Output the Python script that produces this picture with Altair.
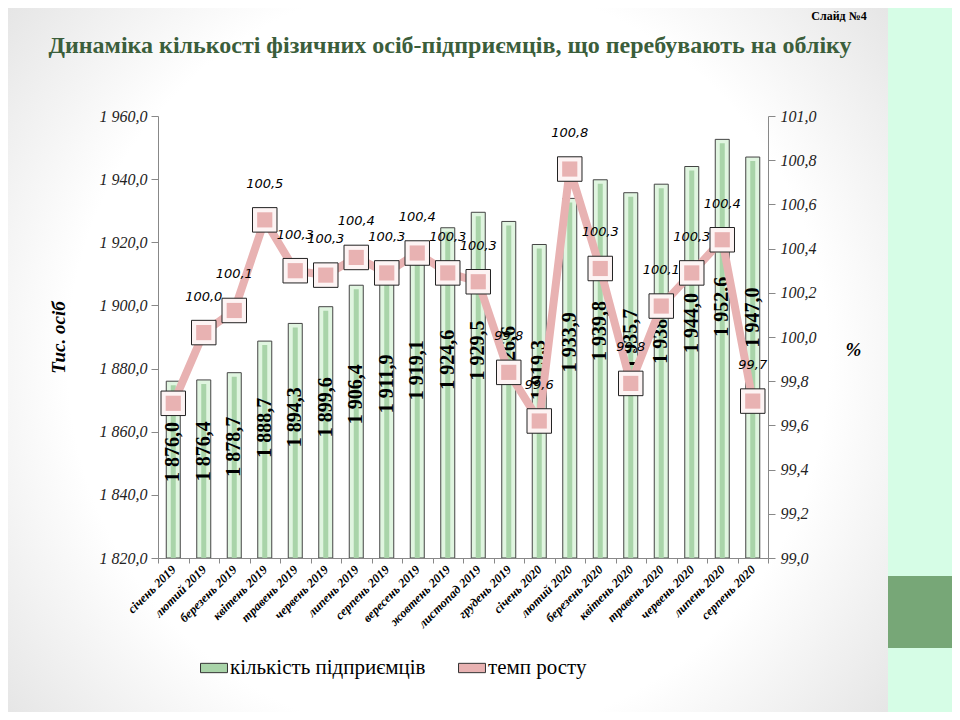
import altair as alt
import pandas as pd

months = ["січень 2019", "лютий 2019", "березень 2019", "квітень 2019", "травень 2019",
          "червень 2019", "липень 2019", "серпень 2019", "вересень 2019", "жовтень 2019",
          "листопад 2019", "грудень 2019", "січень 2020", "лютий 2020", "березень 2020",
          "квітень 2020", "травень 2020", "червень 2020", "липень 2020", "серпень 2020"]
counts = [1876.0, 1876.4, 1878.7, 1888.7, 1894.3, 1899.6, 1906.4, 1911.9, 1919.1, 1924.6,
          1929.5, 1926.6, 1919.3, 1933.9, 1939.8, 1935.7, 1938.4, 1944.0, 1952.6, 1947.0]
rates = [99.70, 100.02, 100.12, 100.53, 100.30, 100.28, 100.36, 100.29, 100.38, 100.29,
         100.25, 99.84, 99.62, 100.76, 100.31, 99.79, 100.14, 100.29, 100.44, 99.71]
left_ticks = [1820, 1840, 1860, 1880, 1900, 1920, 1940, 1960]
right_ticks = [99.0, 99.2, 99.4, 99.6, 99.8, 100.0, 100.2, 100.4, 100.6, 100.8, 101.0]
series_names = ["кількість підприємців", "темп росту"]
title_text = "Динаміка кількості фізичних осіб-підприємців, що перебувають на обліку"

df = pd.DataFrame({"month": months, "count": counts, "rate": rates, "idx": list(range(len(months)))})

SERIF = "Liberation Serif"
W, H = 610, 442

x_enc = alt.X("month:N", sort=months, title=None,
              scale=alt.Scale(paddingInner=0, paddingOuter=0),
              axis=alt.Axis(labelAngle=-45, labelAlign="right", labelBaseline="middle",
                            labelFont=SERIF, labelFontSize=12.5, labelFontWeight="bold",
                            labelFontStyle="italic", labelColor="#000", labelPadding=4,
                            tickBand="extent", tickSize=5, tickColor="#888",
                            domainColor="#888", labelOverlap=False, zindex=1))

left_axis = alt.Axis(values=left_ticks, grid=False, tickSize=7, tickColor="#888", domainColor="#888",
                     labelExpr="replace(replace(format(datum.value, ',.1f'), ',', ' '), '.', ',')",
                     labelFont=SERIF, labelFontStyle="italic", labelFontSize=16, labelColor="#222",
                     labelPadding=4, zindex=1,
                     title="Тис. осіб", titleFont=SERIF, titleFontSize=19, titleFontWeight="bold",
                     titleFontStyle="italic", titleColor="#000", titleAngle=270,
                     titleX=-100, titleY=221, titleAlign="center", titleBaseline="middle")
left_scale = alt.Scale(domain=[1820, 1960], nice=False, zero=False, clamp=True)

right_axis = alt.Axis(values=right_ticks, grid=False, tickSize=7, tickColor="#888", domainColor="#888",
                      labelExpr="replace(format(datum.value, '.1f'), '.', ',')",
                      labelFont=SERIF, labelFontStyle="italic", labelFontSize=16, labelColor="#222",
                      labelPadding=5, orient="right", zindex=1,
                      title="%", titleFont=SERIF, titleFontSize=19, titleFontWeight="bold",
                      titleFontStyle="italic", titleColor="#000", titleAngle=0,
                      titleX=85, titleY=233, titleAlign="center", titleBaseline="middle")
right_scale = alt.Scale(domain=[99, 101], nice=False, zero=False)

color_scale = alt.Scale(domain=series_names, range=["#a9d4a9", "#e8b2b2"])

one = pd.DataFrame({"a": [1]})

bg = alt.Chart(one).mark_rect(
    fill={"gradient": "radial", "x1": 0.5, "y1": 0.5, "x2": 0.5, "y2": 0.5, "r1": 0, "r2": 0.72,
          "stops": [{"offset": 0, "color": "#ffffff"}, {"offset": 0.6, "color": "#ffffff"},
                    {"offset": 1, "color": "#dcdcdc"}]}
).encode(x=alt.value(-150), x2=alt.value(730), y=alt.value(-108), y2=alt.value(596))

strip = alt.Chart(one).mark_rect(color="#d6fde6").encode(
    x=alt.value(730), x2=alt.value(794), y=alt.value(-108), y2=alt.value(596))
box = alt.Chart(one).mark_rect(color="#77a777").encode(
    x=alt.value(730), x2=alt.value(794), y=alt.value(460), y2=alt.value(532))
slide_no = alt.Chart(one).mark_text(text="Слайд №4", font=SERIF, fontSize=12, fontWeight="bold",
                                    fontStyle="normal",
                                    color="#000", align="center", baseline="middle").encode(
    x=alt.value(681), y=alt.value(-100))
title_mark = alt.Chart(one).mark_text(text=title_text, font=SERIF, fontSize=24, fontWeight="bold",
                                      fontStyle="normal",
                                      color="#3b5e3b", align="center", baseline="middle").encode(
    x=alt.value(292), y=alt.value(-70))

base = alt.Chart(df)

outer_bar = base.mark_bar(size=14, fill="#e0f5e0", stroke="#444", strokeWidth=1).encode(
    x=x_enc, y=alt.Y("count:Q", scale=left_scale, axis=left_axis), y2=alt.datum(1820))
inner_bar = base.mark_bar(size=5, yOffset=4, clip=True).encode(
    x=x_enc, y=alt.Y("count:Q", scale=left_scale, axis=left_axis), y2=alt.datum(1820),
    color=alt.Color("series:N", scale=color_scale,
                    legend=alt.Legend(orient="none", legendX=45, legendY=541, direction="horizontal",
                                      title=None, symbolType="M-1.3,-0.45H1.3V0.45H-1.3Z",
                                      symbolSize=430,
                                      symbolStrokeColor="#333", symbolStrokeWidth=1,
                                      labelFont=SERIF, labelFontSize=21, labelColor="#000",
                                      labelLimit=400, columnPadding=30, labelOffset=5))
).transform_calculate(series="'кількість підприємців'")

bar_text = base.mark_text(angle=270, font=SERIF, fontSize=20, fontWeight="bold", color="#000",
                          fontStyle="normal", align="center", baseline="middle").encode(
    x=x_enc, y=alt.Y("labelpos:Q", scale=left_scale, axis=left_axis), text="lbl:N"
).transform_calculate(
    labelpos="1820 + 0.6 * (datum.count - 1820)",
    lbl="replace(replace(format(datum.count, ',.1f'), ',', ' '), '.', ',')")

left = alt.layer(bg, strip, box, slide_no, title_mark, outer_bar, inner_bar, bar_text)

line = base.mark_line(color="#e8b2b2", strokeWidth=8).encode(
    x=x_enc, y=alt.Y("rate:Q", scale=right_scale, axis=right_axis))
outer_pt = base.mark_point(shape="square", size=600, filled=True, fill="#fdf4f4", stroke="#222",
                           strokeWidth=1, opacity=1).encode(
    x=x_enc, y=alt.Y("rate:Q", scale=right_scale, axis=right_axis))
inner_pt = base.mark_point(shape="square", size=230, filled=True, opacity=1).encode(
    x=x_enc, y=alt.Y("rate:Q", scale=right_scale, axis=right_axis),
    color=alt.Color("series:N", scale=color_scale)
).transform_calculate(series="'темп росту'")
pt_text = base.mark_text(dy=-36, font="DejaVu Sans", fontSize=13, fontStyle="italic",
                         color="#000").encode(
    x=x_enc, y=alt.Y("rate:Q", scale=right_scale, axis=right_axis), text="lbl:N"
).transform_filter("datum.idx > 0").transform_calculate(
    lbl="replace(format(datum.rate, '.1f'), '.', ',')")

right = alt.layer(line, outer_pt, inner_pt, pt_text)

chart = alt.layer(left, right).resolve_scale(y="independent").properties(
    width=W, height=H,
    autosize=alt.AutoSizeParams(type="none"),
    padding={"left": 150, "top": 108, "right": 184, "bottom": 154},
).configure(background="#ffffff").configure_view(stroke=None)

chart.save("out.html", embed_options={"renderer": "svg", "actions": False})
